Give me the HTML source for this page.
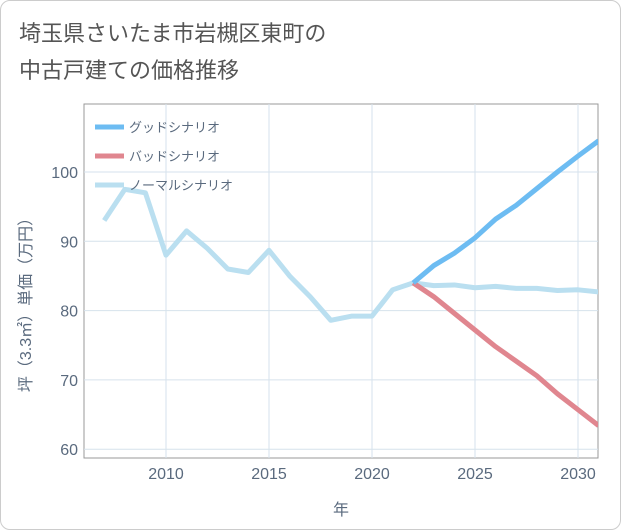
<!DOCTYPE html>
<html><head><meta charset="utf-8"><style>
body{margin:0;background:#fff;}
#wrap{position:relative;width:619px;height:528px;border:1px solid #ccc;border-radius:10px;background:#fff;overflow:hidden;}
text{font-family:"Liberation Sans","Noto Sans CJK JP",sans-serif;}
</style></head><body>
<div id="wrap">
<svg id="c" width="621" height="530"></svg>
</div>
<script>
const years=[2007,2008,2009,2010,2011,2012,2013,2014,2015,2016,2017,2018,2019,2020,2021,2022,2023,2024,2025,2026,2027,2028,2029,2030,2031];
const normal=[93,97.5,97,88,91.5,89,86,85.5,88.7,85,82,78.6,79.2,79.2,83,84,83.6,83.7,83.3,83.5,83.2,83.2,82.9,83,82.7];
const scenYears=[2022,2023,2024,2025,2026,2027,2028,2029,2030,2031];
const good=[84,86.5,88.3,90.5,93.2,95.2,97.6,100,102.3,104.5];
const bad=[84,82,79.6,77.2,74.8,72.7,70.6,68,65.7,63.4];
const xTicks=[2010,2015,2020,2025,2030];
const yTicks=[60,70,80,90,100];
const NS="http://www.w3.org/2000/svg";
const svg=document.getElementById('c');
const L=83,R=597,T=103,B=457;
const x=v=>165+(v-2010)*20.6;
const y=v=>171+(100-v)*6.93;
function el(t,a,p){const e=document.createElementNS(NS,t);for(const k in a)e.setAttribute(k,a[k]);(p||svg).appendChild(e);return e;}
const title=el('text',{x:18,y:40,'font-size':22,fill:'#555'});


title.textContent='埼玉県さいたま市岩槻区東町の';
const title2=el('text',{x:18,y:77,'font-size':22,fill:'#555'});


title2.textContent='中古戸建ての価格推移';
const plot=el('rect',{x:L,y:T,width:R-L,height:B-T,fill:'#fff',stroke:'#999','stroke-width':1});


xTicks.forEach(t=>{
 const g=el('line',{x1:x(t),x2:x(t),y1:T,y2:B,stroke:'#d6e2ec'});
 
 
 const lb=el('text',{x:x(t),y:478,'font-size':16,fill:'#5a6a7e','text-anchor':'middle'});
 
 
 lb.textContent=t;
});
yTicks.forEach(t=>{
 const g=el('line',{x1:L,x2:R,y1:y(t),y2:y(t),stroke:'#d6e2ec'});
 
 
 const lb=el('text',{x:77,y:y(t)+6,'font-size':16,fill:'#5a6a7e','text-anchor':'end'});
 
 
 lb.textContent=t;
});
const xt=el('text',{x:340,y:514,'font-size':16,fill:'#5a6a7e','text-anchor':'middle'});


xt.textContent='年';
const yt=el('text',{x:0,y:0,'font-size':16,fill:'#5a6a7e','text-anchor':'middle',transform:'translate(30,300) rotate(-90)'});


yt.textContent='坪（3.3㎡）単価（万円）';
const clip=el('clipPath',{id:'cp'});el('rect',{x:L,y:T,width:R-L,height:B-T},clip);
function line(xs,vs,color,name){
 const p=el('polyline',{points:xs.map((t,i)=>x(t)+','+y(vs[i])).join(' '),fill:'none',stroke:color,'stroke-width':5,'stroke-linejoin':'round','clip-path':'url(#cp)'});
 
 
}
line(years,normal,'#badff0','normal-line');
line(scenYears,bad,'#e0868f','bad-line');
line(scenYears,good,'#6dbcf2','good-line');
const leg=[['グッドシナリオ','#6dbcf2'],['バッドシナリオ','#e0868f'],['ノーマルシナリオ','#badff0']];
leg.forEach((d,i)=>{
 const g=el('g',{});
 
 
 const yy=126+i*29;
 el('line',{x1:94,x2:123,y1:yy,y2:yy,stroke:d[1],'stroke-width':5},g);
 const t=el('text',{x:128,y:yy+5,'font-size':13,fill:'#5a6a7e'},g);t.textContent=d[0];
});
</script>
</body></html>
